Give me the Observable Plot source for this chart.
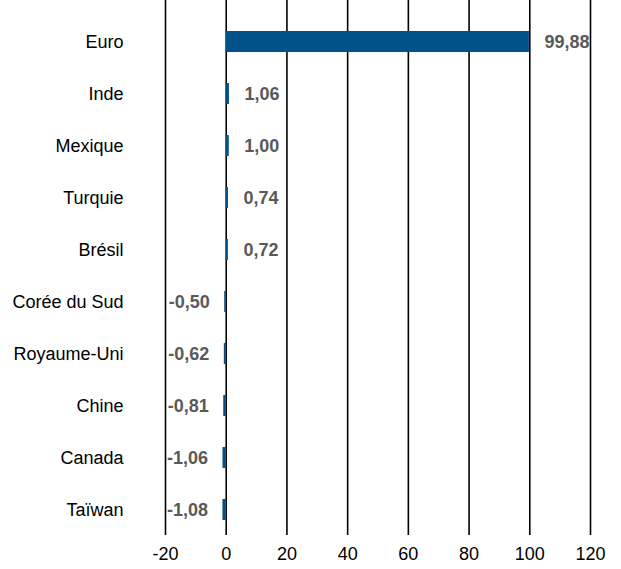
<!DOCTYPE html>
<html><head><meta charset="utf-8">
<script src="https://cdn.jsdelivr.net/npm/d3@7"></script>
<script src="https://cdn.jsdelivr.net/npm/@observablehq/plot@0.6"></script>
<style>body{margin:0;background:#fff}</style>
</head><body><div id="chart"></div>
<script>
const categories = ["Euro","Inde","Mexique","Turquie","Brésil","Corée du Sud","Royaume-Uni","Chine","Canada","Taïwan"];
const values = [99.88,1.06,1.00,0.74,0.72,-0.50,-0.62,-0.81,-1.06,-1.08];
const xTicks = [-20,0,20,40,60,80,100,120];
const data = categories.map((c,i)=>({cat:c, v:values[i]}));
const fmt = v => d3.format(".2f")(v).replace(".", ",").replace("\u2212", "-");
const chart = Plot.plot({
  width: 621, height: 569,
  marginLeft: 165, marginRight: 31, marginTop: 0, marginBottom: 34,
  style: {fontFamily: "'Liberation Sans', Arial, sans-serif", fontSize: "18px", color: "#000", background: "#fff"},
  x: {domain: [-20,120], ticks: xTicks, label: null, tickSize: 0, tickPadding: 12, tickFormat: d => String(d)},
  y: {domain: categories, label: null, tickSize: 0, tickPadding: 42, paddingInner: 0.6, paddingOuter: 0.3, insetTop: 15},
  marks: [
    Plot.ruleX(xTicks, {stroke: "#000", strokeWidth: 1.6}),
    Plot.barX(data, {x: "v", y: "cat", fill: "#005288"}),
    Plot.text(data.filter(d=>d.v>=0), {x: "v", y: "cat", text: d=>fmt(d.v), textAnchor: "start", dx: 15, fill: "#595959", fontWeight: "bold", fontSize: 18}),
    Plot.text(data.filter(d=>d.v<0), {x: "v", y: "cat", text: d=>fmt(d.v), textAnchor: "end", dx: -15, fill: "#595959", fontWeight: "bold", fontSize: 18})
  ]
});
document.getElementById("chart").append(chart);
</script></body></html>
